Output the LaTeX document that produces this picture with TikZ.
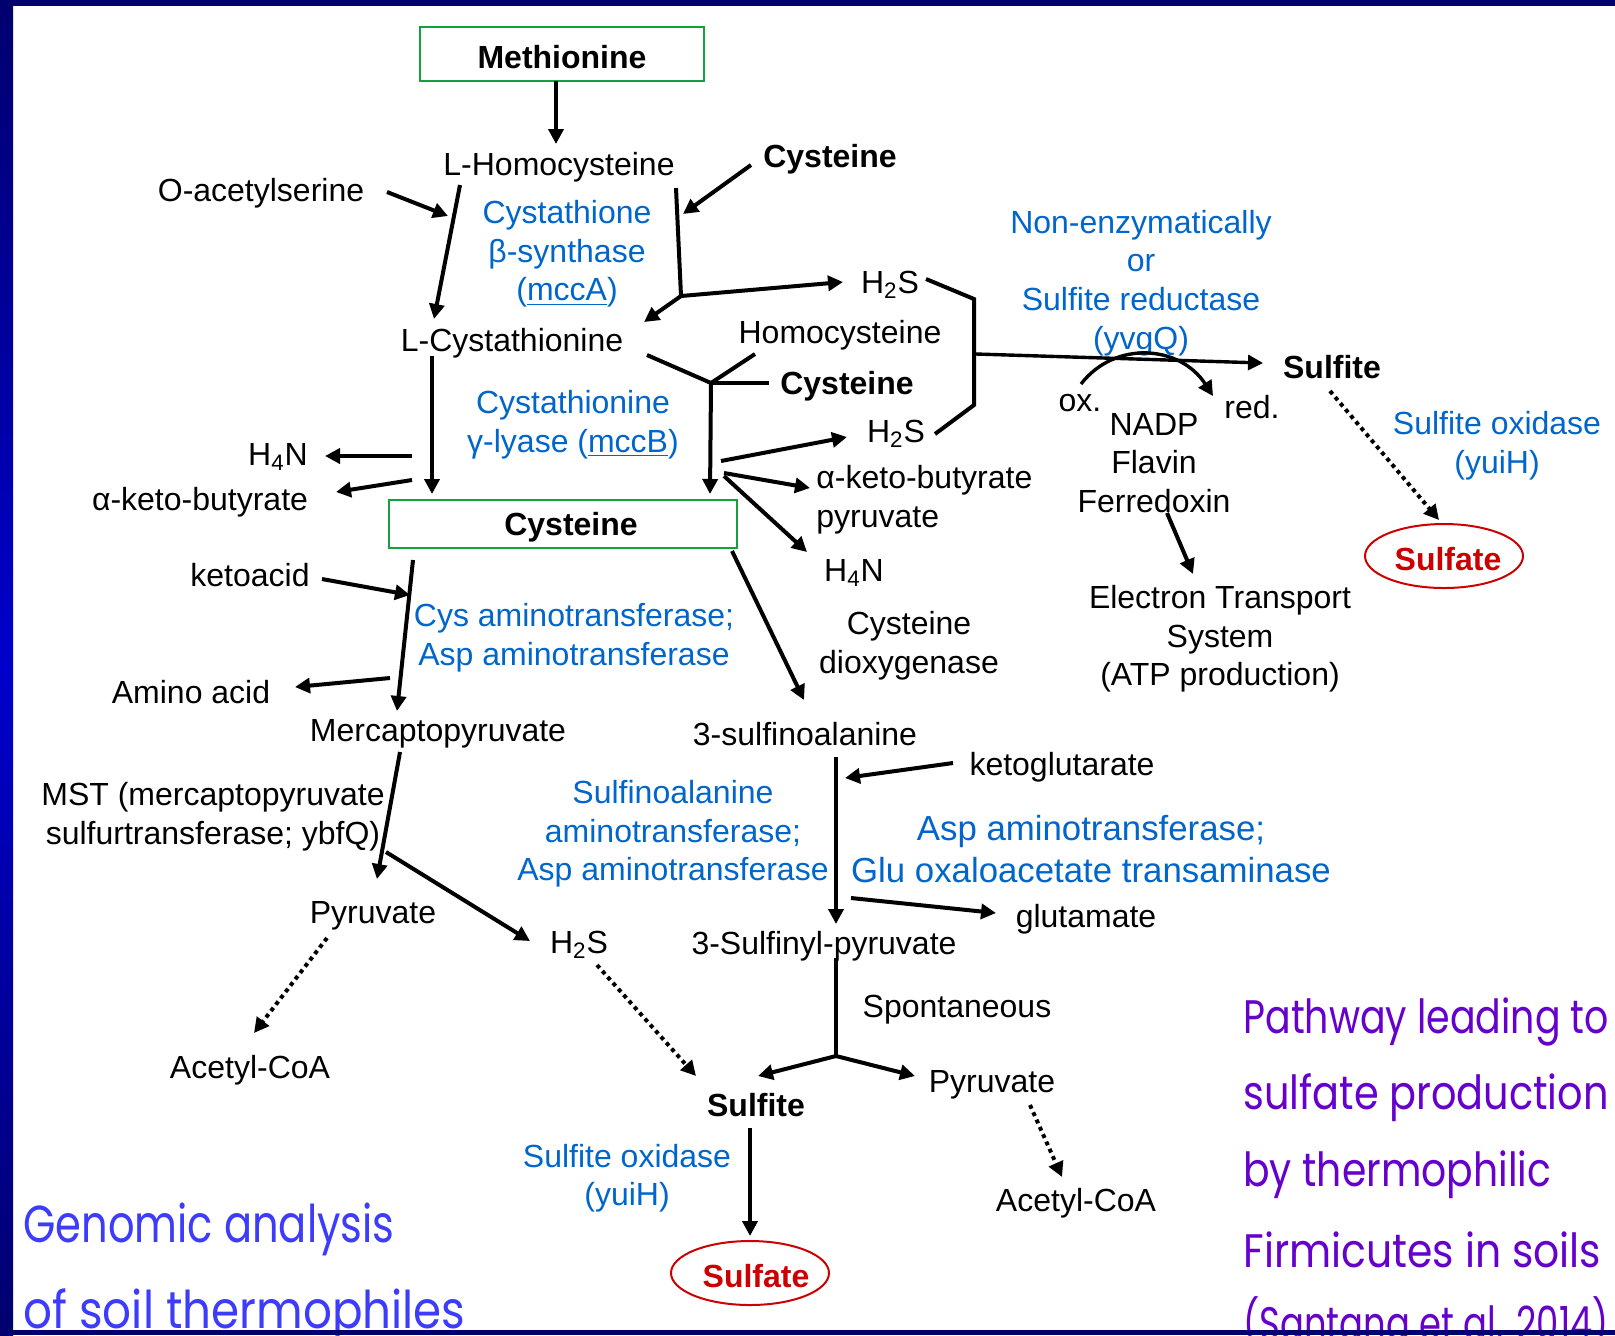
\documentclass[tikz,border=0pt]{standalone}
\usepackage{fontspec}
\setmainfont{Liberation Sans}
\newfontfamily\comicfont{Poppins}
\usetikzlibrary{arrows.meta,shapes.geometric}
\definecolor{enzblue}{RGB}{0,102,204}
\definecolor{boxgreen}{RGB}{20,160,60}
\definecolor{sulfred}{RGB}{204,0,0}
\definecolor{titleblue}{RGB}{60,60,250}
\definecolor{titlepurple}{RGB}{102,0,204}
\definecolor{navyframe}{RGB}{0,0,110}
\definecolor{brightframe}{RGB}{0,0,204}
\begin{document}
\begin{tikzpicture}[x=0.5pt,y=-0.5pt,
  lbl/.style={inner sep=0pt, yshift=-1.5pt, font=\fontsize{16}{19.3}\selectfont, align=center},
  bld/.style={inner sep=0pt, yshift=-1.5pt, font=\bfseries\fontsize{16}{19.3}\selectfont, align=center},
  enz/.style={lbl, text=enzblue},
  arr/.style={line width=2pt, -{Triangle[length=7.5pt,width=7.5pt]}},
  thinarr/.style={line width=1.7pt, -{Triangle[length=7.5pt,width=7.5pt]}},
  ln/.style={line width=2pt, line join=miter},
  dotarr/.style={line width=2pt, dotted, -{Triangle[length=7.5pt,width=7.5pt]}},
  greenbox/.style={draw=boxgreen, line width=1pt, inner sep=0pt},
  sulfatenode/.style={ellipse, draw=sulfred, line width=1pt, inner sep=0pt, minimum width=79pt, minimum height=32pt},
  sulfatetxt/.style={bld, text=sulfred},
  bigtitle/.style={anchor=west, inner sep=0pt, text=titleblue, font=\comicfont\fontsize{26}{30}\selectfont},
  purpletitle/.style={anchor=west, inner sep=0pt, text=titlepurple, font=\comicfont\fontsize{23.5}{28}\selectfont}
]
\useasboundingbox (0,0) rectangle (1615,1335);
\clip (0,0) rectangle (1615,1335);
\fill[white] (0,0) rectangle (1615,1335);

% ---------- nodes ----------
\node[greenbox, minimum width=142pt, minimum height=27pt] (meth) at (562,54) {};
\node[bld] (methtxt) at (562,54) {Methionine};
\node[lbl] (hcy) at (559,164) {L-Homocysteine};
\node[lbl] (oas) at (261,190) {O-acetylserine};
\node[enz] (cbs) at (567,251) {Cystathione\\β-synthase\\(\underline{mccA})};
\node[bld] (cysA) at (830,156) {Cysteine};
\node[lbl] (hs1) at (890,282) {H\textsubscript{2}S};
\node[lbl] (cth) at (512,340) {L-Cystathionine};
\node[lbl] (hcy2) at (840,332) {Homocysteine};
\node[bld] (cysB) at (847,383) {Cysteine};
\node[enz] (cgl) at (573,422) {Cystathionine\\γ-lyase (\underline{mccB})};
\node[lbl] (hn1) at (278,454) {H\textsubscript{4}N};
\node[lbl] (akb1) at (200,499) {α-keto-butyrate};
\node[greenbox, minimum width=174pt, minimum height=24pt] (cysbox) at (563,524) {};
\node[bld] (cysboxtxt) at (571,524) {Cysteine};
\node[lbl] (hs2) at (896,431) {H\textsubscript{2}S};
\node[lbl, anchor=west, align=left] (akb2) at (816,497) {α-keto-butyrate\\pyruvate};
\node[lbl] (hn2) at (854,570) {H\textsubscript{4}N};
\node[bld] (sulfite1) at (1332,364) {Sulfite};
\node[enz] (nonenz) at (1141,280) {Non-enzymatically\\or\\Sulfite reductase\\(yvgQ)};
\node[lbl] (ox) at (1080,400) {ox.};
\node[lbl] (red) at (1252,404) {red.};
\node[lbl] (nadp) at (1154,460) {NADP\\Flavin\\Ferredoxin};
\node[lbl] (ets) at (1220,636) {Electron Transport\\System\\(ATP production)};
\node[enz] (sox1) at (1497,443) {Sulfite oxidase\\(yuiH)};
\node[sulfatenode] (sulfate1) at (1444,556) {};
\node[sulfatetxt] (sulfate1txt) at (1448,556) {Sulfate};
\node[lbl] (ketoacid) at (250,572) {ketoacid};
\node[enz] (cat) at (574,635) {Cys aminotransferase;\\Asp aminotransferase};
\node[lbl] (amino) at (191,689) {Amino acid};
\node[lbl] (mpyr) at (438,731) {Mercaptopyruvate};
\node[lbl] (cdo) at (909,643) {Cysteine\\dioxygenase};
\node[lbl] (sfa) at (805,731) {3-sulfinoalanine};
\node[lbl] (mst) at (213,814) {MST (mercaptopyruvate\\sulfurtransferase; ybfQ)};
\node[lbl] (pyrL) at (373,913) {Pyruvate};
\node[lbl] (hs3) at (579,942) {H\textsubscript{2}S};
\node[lbl] (acoaL) at (250,1067) {Acetyl-CoA};
\node[lbl] (kg) at (1062,764) {ketoglutarate};
\node[enz] (sat) at (673,831) {Sulfinoalanine\\aminotransferase;\\Asp aminotransferase};
\node[enz, font=\fontsize{17.4}{20.6}\selectfont] (aat) at (1091,846) {Asp aminotransferase;\\Glu oxaloacetate transaminase};
\node[lbl] (glu) at (1086,916) {glutamate};
\node[lbl] (sfp) at (824,943) {3-Sulfinyl-pyruvate};
\node[lbl] (spont) at (957,1007) {Spontaneous};
\node[bld] (sulfite2) at (756,1102) {Sulfite};
\node[lbl] (pyrR) at (992,1082) {Pyruvate};
\node[lbl] (acoaR) at (1076,1200) {Acetyl-CoA};
\node[enz] (sox2) at (627,1175) {Sulfite oxidase\\(yuiH)};
\node[sulfatenode] (sulfate2) at (750,1273) {};
\node[sulfatetxt] (sulfate2txt) at (756,1273) {Sulfate};

% titles
\node[bigtitle] (t1) at (23,1229) {\scalebox{0.80}[1]{Genomic analysis}};
\node[bigtitle] (t2) at (23,1315) {\scalebox{0.87}[1]{of soil thermophiles}};
\node[purpletitle] (p1) at (1243,1022) {\scalebox{0.807}[1]{Pathway leading to}};
\node[purpletitle] (p2) at (1243,1098) {\scalebox{0.848}[1]{sulfate production}};
\node[purpletitle] (p3) at (1243,1175) {\scalebox{0.836}[1]{by thermophilic}};
\node[purpletitle] (p4) at (1243,1250) {\scalebox{0.87}[1]{Firmicutes in soils}};
\node[purpletitle] (p5) at (1243,1323) {\scalebox{0.753}[1]{(Santana et al. 2014)}};

% ---------- coordinates ----------
\coordinate (c1a) at (556,81);   \coordinate (c1b) at (556,144);
\coordinate (c2a) at (387,192);  \coordinate (c2b) at (448,216);
\coordinate (c3a) at (460,185);  \coordinate (c3b) at (434,319);
\coordinate (c4a) at (751,165);  \coordinate (c4b) at (683,214);
\coordinate (c5a) at (676,188);  \coordinate (j1) at (681,296);
\coordinate (c5b) at (843,282);  \coordinate (c5c) at (644,322);
\coordinate (c6a) at (647,355);  \coordinate (j2) at (711,383);
\coordinate (c6b) at (755,354);  \coordinate (c6c) at (769,383);
\coordinate (c6d) at (710,494);
\coordinate (c7a) at (432,356);  \coordinate (c7b) at (432,494);
\coordinate (c8a) at (412,456);  \coordinate (c8b) at (325,456);
\coordinate (c9a) at (412,480);  \coordinate (c9b) at (336,492);
\coordinate (c10a) at (721,461); \coordinate (c10b) at (847,437);
\coordinate (c11a) at (724,473); \coordinate (c11b) at (810,488);
\coordinate (c12a) at (724,476); \coordinate (c12b) at (807,552);
\coordinate (c13a) at (926,279); \coordinate (c13b) at (974,299);
\coordinate (c13c) at (974,405); \coordinate (c13d) at (935,434);
\coordinate (c14a) at (976,354); \coordinate (c14b) at (1263,363);
\coordinate (c15a) at (1081,384); \coordinate (c15b) at (1213,396);
\coordinate (c16a) at (1167,513); \coordinate (c16b) at (1193,574);
\coordinate (c17a) at (1330,391); \coordinate (c17b) at (1439,520);
\coordinate (c18a) at (413,560); \coordinate (c18b) at (397,711);
\coordinate (c19a) at (322,579); \coordinate (c19b) at (410,595);
\coordinate (c20a) at (390,678); \coordinate (c20b) at (295,687);
\coordinate (c21a) at (732,551); \coordinate (c21b) at (804,700);
\coordinate (c22a) at (400,752); \coordinate (c22b) at (377,879);
\coordinate (c23a) at (386,852); \coordinate (c23b) at (530,941);
\coordinate (c24a) at (327,938); \coordinate (c24b) at (254,1033);
\coordinate (c25a) at (597,965); \coordinate (c25b) at (696,1076);
\coordinate (c26a) at (836,757); \coordinate (c26b) at (836,924);
\coordinate (c27a) at (953,763); \coordinate (c27b) at (845,778);
\coordinate (c28a) at (851,898); \coordinate (c28b) at (996,913);
\coordinate (c29a) at (836,958); \coordinate (j3) at (836,1056);
\coordinate (c29b) at (758,1076); \coordinate (c29c) at (915,1076);
\coordinate (c30a) at (1030,1105); \coordinate (c30b) at (1062,1177);
\coordinate (c31a) at (750,1128); \coordinate (c31b) at (750,1236);

% ---------- connectors ----------
\draw[arr] (c1a) -- (c1b);
\draw[arr] (c2a) -- (c2b);
\draw[arr] (c3a) -- (c3b);
\draw[arr] (c4a) -- (c4b);
\draw[ln] (c5a) -- (j1);
\draw[arr] (j1) -- (c5b);
\draw[arr] (j1) -- (c5c);
\draw[ln] (c6a) -- (j2);
\draw[ln] (j2) -- (c6b);
\draw[ln] (j2) -- (c6c);
\draw[arr] (j2) -- (c6d);
\draw[arr] (c7a) -- (c7b);
\draw[arr] (c8a) -- (c8b);
\draw[arr] (c9a) -- (c9b);
\draw[arr] (c10a) -- (c10b);
\draw[arr] (c11a) -- (c11b);
\draw[arr] (c12a) -- (c12b);
\draw[ln] (c13a) -- (c13b) -- (c13c) -- (c13d);
\draw[thinarr] (c14a) -- (c14b);
\draw[thinarr] (c15a) .. controls (1115,340) and (1180,345) .. (c15b);
\draw[arr] (c16a) -- (c16b);
\draw[dotarr] (c17a) -- (c17b);
\draw[arr] (c18a) -- (c18b);
\draw[arr] (c19a) -- (c19b);
\draw[arr] (c20a) -- (c20b);
\draw[arr] (c21a) -- (c21b);
\draw[arr] (c22a) -- (c22b);
\draw[arr] (c23a) -- (c23b);
\draw[dotarr] (c24a) -- (c24b);
\draw[dotarr] (c25a) -- (c25b);
\draw[arr] (c26a) -- (c26b);
\draw[arr] (c27a) -- (c27b);
\draw[arr] (c28a) -- (c28b);
\draw[ln] (c29a) -- (j3);
\draw[arr] (j3) -- (c29b);
\draw[arr] (j3) -- (c29c);
\draw[dotarr] (c30a) -- (c30b);
\draw[arr] (c31a) -- (c31b);

% ---------- frame ----------
\fill[navyframe] (0,0) rectangle (1615,6);
\fill[navyframe] (0,1330) rectangle (1615,1335);
\shade[top color=navyframe, bottom color=navyframe, middle color=brightframe] (0,0) rectangle (13,1335);
\end{tikzpicture}
\end{document}
